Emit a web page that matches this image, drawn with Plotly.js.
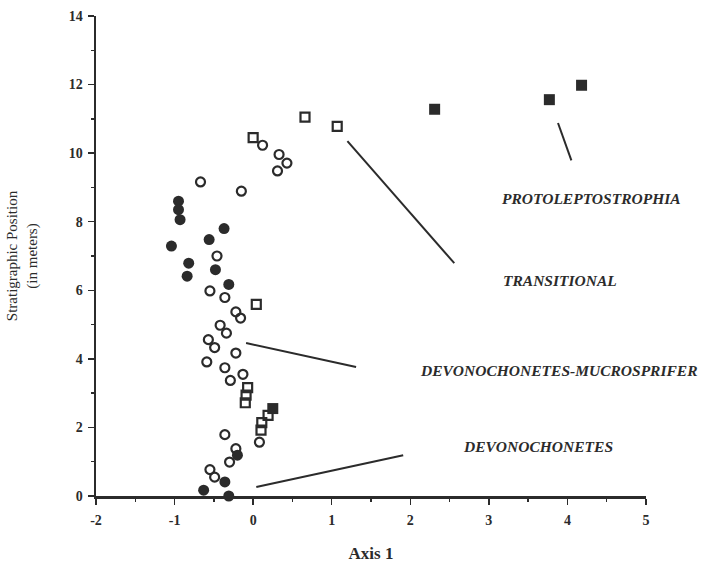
<!DOCTYPE html>
<html>
<head>
<meta charset="utf-8">
<script src="https://cdn.plot.ly/plotly-3.0.1.min.js"></script>
<style>html,body{margin:0;padding:0;background:#fff;}#chart{width:704px;height:565px;}</style>
</head>
<body>
<div id="chart"></div>
<script>
// Open circles
const openCircleX = [0.12, 0.33, 0.43, 0.31, -0.67, -0.15, -0.46, -0.55, -0.36, -0.22, -0.16, -0.42, -0.34, -0.57, -0.49, -0.22, -0.59, -0.36, -0.13, -0.29, 0.08, -0.36, -0.22, -0.30, -0.55, -0.49];
const openCircleY = [10.23, 9.96, 9.71, 9.48, 9.16, 8.89, 7.00, 5.98, 5.79, 5.37, 5.19, 4.98, 4.75, 4.56, 4.33, 4.17, 3.91, 3.74, 3.55, 3.37, 1.57, 1.79, 1.38, 0.99, 0.77, 0.55];
// Filled circles
const filledCircleX = [-0.95, -0.95, -0.93, -0.37, -0.56, -1.04, -0.82, -0.84, -0.48, -0.31, -0.20, -0.36, -0.63, -0.31];
const filledCircleY = [8.60, 8.35, 8.06, 7.80, 7.48, 7.29, 6.79, 6.41, 6.60, 6.17, 1.19, 0.41, 0.17, 0.0];
// Open squares
const openSquareX = [0.00, 0.66, 1.07, 0.04, -0.07, -0.09, -0.10, 0.19, 0.11, 0.10];
const openSquareY = [10.45, 11.05, 10.78, 5.59, 3.16, 2.94, 2.72, 2.35, 2.14, 1.92];
// Filled squares
const filledSquareX = [0.25, 2.31, 3.77, 4.18];
const filledSquareY = [2.55, 11.28, 11.56, 11.98];

// Label leader lines (start, end)
const leaderX = [[3.88, 4.05], [1.20, 2.56], [-0.09, 1.31], [0.04, 1.91]];
const leaderY = [[10.88, 9.79], [10.35, 6.79], [4.46, 3.76], [0.26, 1.19]];

// Group labels
const labelText = ["PROTOLEPTOSTROPHIA", "TRANSITIONAL", "DEVONOCHONETES-MUCROSPRIFER", "DEVONOCHONETES"];
const labelX = [4.31, 3.90, 2.10, 3.62];
const labelY = [8.67, 6.29, 3.67, 1.43];
const labelAnchor = ["center", "center", "left", "center"];

// Tick labels
const xTickVals = [-2, -1, 0, 1, 2, 3, 4, 5];
const xTickText = ["-2", "-1", "0", "1", "2", "3", "4", "5"];
const yTickVals = [0, 2, 4, 6, 8, 10, 12, 14];
const yTickText = ["0", "2", "4", "6", "8", "10", "12", "14"];

const ink = "#2b2b2b";
const serif = "Liberation Serif, Times New Roman, serif";

const traces = [];
leaderX.forEach((lx, i) => {
  traces.push({x: lx, y: leaderY[i], mode: "lines", type: "scatter",
    line: {color: ink, width: 2}, hoverinfo: "skip", showlegend: false, cliponaxis: false});
});
traces.push({x: openCircleX, y: openCircleY, mode: "markers", type: "scatter", showlegend: false, cliponaxis: false,
  marker: {symbol: "circle-open", size: 9, color: ink, line: {width: 2.2, color: ink}}});
traces.push({x: filledCircleX, y: filledCircleY, mode: "markers", type: "scatter", showlegend: false, cliponaxis: false,
  marker: {symbol: "circle", size: 11, color: ink, line: {width: 0}}});
traces.push({x: openSquareX, y: openSquareY, mode: "markers", type: "scatter", showlegend: false, cliponaxis: false,
  marker: {symbol: "square-open", size: 9, color: ink, line: {width: 2.2, color: ink}}});
traces.push({x: filledSquareX, y: filledSquareY, mode: "markers", type: "scatter", showlegend: false, cliponaxis: false,
  marker: {symbol: "square", size: 11, color: ink, line: {width: 0}}});

const annotations = labelText.map((t, i) => ({
  x: labelX[i], y: labelY[i], xref: "x", yref: "y", text: t, showarrow: false,
  xanchor: labelAnchor[i], yanchor: "middle",
  font: {family: serif, size: 15.5, color: ink, weight: "bold", style: "italic"}
}));

const layout = {
  width: 704, height: 565,
  margin: {l: 95.6, r: 57.5, t: 15.7, b: 69.3},
  paper_bgcolor: "#fff", plot_bgcolor: "#fff",
  font: {family: serif, color: ink},
  xaxis: {
    range: [-2, 5], tickmode: "array", tickvals: xTickVals, ticktext: xTickText,
    showgrid: false, zeroline: false,
    showline: true, linecolor: ink, linewidth: 2.5, mirror: false,
    ticks: "outside", ticklen: 6, tickwidth: 1.5, tickcolor: ink,
    minor: {dtick: 0.5, tick0: 0, ticks: "outside", ticklen: 3, tickwidth: 1.5, tickcolor: ink, showgrid: false},
    tickfont: {family: serif, size: 14, weight: "bold", color: ink},
    ticklabelstandoff: 4,
    title: {text: "Axis 1", font: {family: serif, size: 17, weight: "bold", color: ink}, standoff: 20}
  },
  yaxis: {
    range: [0, 14], tickmode: "array", tickvals: yTickVals, ticktext: yTickText,
    showgrid: false, zeroline: false,
    showline: true, linecolor: ink, linewidth: 2.5,
    ticks: "outside", ticklen: 6, tickwidth: 1.5, tickcolor: ink,
    minor: {dtick: 1, tick0: 0, ticks: "outside", ticklen: 3, tickwidth: 1.5, tickcolor: ink, showgrid: false},
    tickfont: {family: serif, size: 14, weight: "bold", color: ink},
    ticklabelstandoff: 2,
    title: {text: "Stratigraphic Position<br>(in meters)", font: {family: serif, size: 15, color: ink}, standoff: 28}
  },
  annotations: annotations,
  showlegend: false
};

Plotly.newPlot("chart", traces, layout, {displayModeBar: false, staticPlot: true});
</script>
</body>
</html>
